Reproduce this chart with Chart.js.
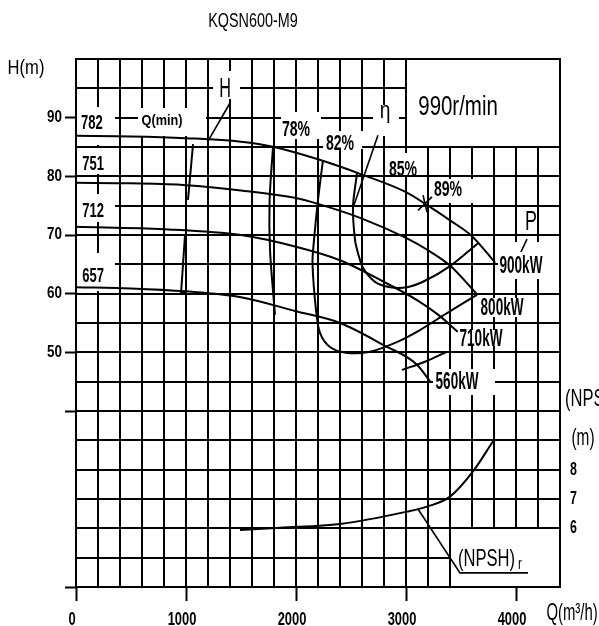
<!DOCTYPE html>
<html><head><meta charset="utf-8">
<script src="https://cdn.jsdelivr.net/npm/chart.js@4.4.1/dist/chart.umd.min.js"></script>
<style>html,body{margin:0;padding:0;background:#fff;}canvas{display:block;}</style>
</head><body>
<canvas id="c" width="599" height="626"></canvas>
<script>
// Narrow "CAD" lettering: a family tag cadkNN tells fillText to squeeze glyphs to NN% width.
const BASE = "'Liberation Sans', Arial, sans-serif";
function fam(k) { return 'cadk' + k + ', ' + BASE; }
const _fill = CanvasRenderingContext2D.prototype.fillText;
CanvasRenderingContext2D.prototype.fillText = function (t, x, y, mw) {
  const m = /cadk(\d+)/.exec(this.font);
  if (!m) return _fill.call(this, t, x, y, mw);
  this.save(); this.translate(x, y); this.scale(+m[1] / 100, 1);
  _fill.call(this, t, 0, 0); this.restore();
};

// ---------- axis ticks ----------
const xTickValues = [0, 1000, 2000, 3000, 4000];
const xTickLabels = ['0', '1000', '2000', '3000', '4000'];
const yTickMarks  = [10, 40, 50, 60, 70, 80, 90];
const yTickValues = [50, 60, 70, 80, 90];
const yTickLabels = ['50', '60', '70', '80', '90'];
const npshTickValues = [6, 7, 8];
const npshTickLabels = ['6', '7', '8'];

// ---------- H-Q curves (Q m3/h, H m) ----------
const q782 = [0, 500, 1000, 1500, 1800, 2200, 2600, 3000, 3200, 3400, 3600, 3810];
const h782 = [86.9, 86.8, 86.5, 85.9, 85.0, 82.9, 80.3, 77.3, 75.0, 72.5, 69.8, 65.3];
const q751 = [0, 500, 1000, 1500, 2000, 2200, 2600, 3000, 3200, 3400, 3650];
const h751 = [78.9, 78.8, 78.5, 77.6, 76.3, 75.3, 72.8, 69.5, 67.4, 64.8, 59.8];
const q712 = [0, 800, 1500, 2000, 2400, 2800, 3100, 3300, 3470];
const h712 = [71.4, 71.0, 70.0, 68.0, 65.7, 62.0, 58.9, 56.3, 53.5];
const q657 = [0, 500, 1000, 1500, 2000, 2400, 2800, 3100, 3220];
const h657 = [61.1, 60.9, 60.4, 59.4, 57.0, 55.0, 51.2, 47.9, 45.0];

// ---------- iso-efficiency lines ----------
const qEff78a = [1791, 1760, 1764, 1809];
const hEff78a = [85.0, 76.0, 67.4, 56.4];
const qEff78b = [2964, 3173, 3373];
const hEff78b = [47.0, 48.4, 50.1];
const qEff82 = [2245, 2200, 2164, 2150, 2182, 2218, 2309, 2464, 2673, 2900, 3127, 3373, 3645];
const hEff82 = [82.7, 76.0, 69.2, 65.2, 57.2, 53.3, 50.9, 49.9, 50.1, 51.6, 53.8, 56.7, 59.8];
const qEff85 = [2555, 2518, 2536, 2564, 2609, 2718, 2855, 3009, 3173, 3400, 3655];
const hEff85 = [80.6, 74.8, 69.2, 66.9, 64.4, 62.0, 61.1, 61.1, 62.2, 64.7, 68.6];

// ---------- minimum flow marks ----------
const qMinA = [1064, 1018];
const hMinA = [85.5, 76.0];
const qMinB = [991, 955, 991];
const hMinB = [70.0, 60.1, 60.1];

// ---------- (NPSH)r curve (Q m3/h, NPSH m) ----------
const qNpsh = [1491, 1855, 2400, 3009, 3191, 3400, 3609, 3791];
const nNpsh = [5.94, 6.02, 6.15, 6.57, 6.74, 7.08, 7.94, 8.97];

// ---------- leader lines (data coords) ----------
const leaders = [
  {q: [1400, 1200], h: [92.5, 86.0]},
  {q: [2745, 2518], h: [87.0, 74.6]},
  {q: [4100, 4045], h: [69.3, 67.1]},
  {q: [3109, 3236], h: [74.2, 76.5]},
  {q: [3155, 3191], h: [76.8, 73.9]},
  {q: [3109, 3491, 4109], h: [23.3, 12.4, 12.4]}
];

// ---------- labels inside plot (data coords) ----------
const notes = [
  {t: '782', q: 145, h: 89.3, s: 21, k: 62},
  {t: '751', q: 155, h: 82.4, s: 21, k: 62},
  {t: '712', q: 155, h: 74.3, s: 21, k: 62},
  {t: '657', q: 155, h: 63.2, s: 21, k: 62},
  {t: 'Q(min)', q: 782, h: 89.6, s: 15, k: 85},
  {t: 'H', q: 1355, h: 95.2, s: 28, k: 58, w: 'normal'},
  {t: '78%', q: 2000, h: 88.2, s: 22, k: 64},
  {t: '82%', q: 2400, h: 85.9, s: 22, k: 64},
  {t: 'η', q: 2809, h: 91.4, s: 24, k: 80, w: 'normal'},
  {t: '85%', q: 2973, h: 81.4, s: 22, k: 64},
  {t: '89%', q: 3382, h: 78.0, s: 22, k: 64},
  {t: '990r/min', q: 3473, h: 92.2, s: 28, k: 73, w: 'normal'},
  {t: 'P', q: 4136, h: 72.6, s: 28, k: 64, w: 'normal'},
  {t: '900kW', q: 4045, h: 64.9, s: 23, k: 59},
  {t: '800kW', q: 3873, h: 57.7, s: 23, k: 59},
  {t: '710kW', q: 3682, h: 52.4, s: 23, k: 59},
  {t: '560kW', q: 3464, h: 45.1, s: 23, k: 59},
  {t: '(NPSH)', sub: 'r', q: 3473, h: 15.03, s: 24, k: 69, align: 'left', w: 'normal'}
];

// ---------- blank areas of the drawing grid (data coords) ----------
const gridGaps = [
  {q: [0, 364], h: [85.2, 92.0]},
  {q: [0, 364], h: [80.2, 85.0]},
  {q: [0, 364], h: [72.0, 77.2]},
  {q: [0, 364], h: [60.3, 67.1]},
  {q: [555, 1191], h: [86.7, 91.8]},
  {q: [1236, 1500], h: [93.0, 98.1]},
  {q: [1855, 2236], h: [86.2, 91.2]},
  {q: [2236, 2609], h: [84.5, 87.9]},
  {q: [2691, 2945], h: [86.7, 92.3]},
  {q: [2820, 3130], h: [80.1, 84.1]},
  {q: [3236, 3709], h: [75.3, 79.8]},
  {q: [3000, 4400], h: [85, 100]},
  {q: [3827, 4400], h: [62.3, 69.0]},
  {q: [3673, 4082], h: [55.9, 59.4]},
  {q: [3491, 3882], h: [50.9, 54.0]},
  {q: [3236, 3818], h: [42.6, 47.3]},
  {q: [3400, 4400], h: [10, 20]}
];
const Q_MIN = 0, Q_MAX = 4400, Q_STEP = 200;
const H_MIN = 10, H_MAX = 100, H_STEP = 5;

function pts(xs, ys) { return xs.map((v, i) => ({x: v, y: ys[i]})); }
function line(xs, ys, extra) {
  return Object.assign({data: pts(xs, ys), showLine: true, pointRadius: 0, pointHoverRadius: 0,
    borderColor: '#000', borderWidth: 2, fill: false, tension: 0}, extra || {});
}
function segs(lo, hi, gaps) {
  gaps.sort((a, b) => a[0] - b[0]);
  const out = []; let s = lo;
  for (const g of gaps) { if (g[0] > s) out.push([s, g[0]]); s = Math.max(s, g[1]); }
  if (s < hi) out.push([s, hi]);
  return out;
}
function put(ctx, t, x, cy, s, k, weight, align) {
  ctx.font = (weight || 'bold') + ' ' + s + 'px ' + fam(k);
  ctx.textAlign = align || 'center';
  ctx.textBaseline = 'alphabetic';
  ctx.fillText(t, x, cy + 0.358 * s);
}

const gridPlugin = {
  id: 'cadGrid',
  beforeDatasetsDraw(chart) {
    const {ctx, scales: {x, y}} = chart;
    ctx.save();
    ctx.strokeStyle = '#000'; ctx.lineWidth = 2; ctx.lineCap = 'square';
    ctx.beginPath();
    for (let q = Q_MIN; q <= Q_MAX; q += Q_STEP) {
      const px = Math.round(x.getPixelForValue(q));
      const gaps = gridGaps.filter(b => b.q[0] < q && q < b.q[1]).map(b => [b.h[0], b.h[1]]);
      for (const [a, b] of segs(H_MIN, H_MAX, gaps)) {
        ctx.moveTo(px, Math.round(y.getPixelForValue(a)));
        ctx.lineTo(px, Math.round(y.getPixelForValue(b)));
      }
    }
    for (let h = H_MIN; h <= H_MAX; h += H_STEP) {
      const py = Math.round(y.getPixelForValue(h));
      const gaps = gridGaps.filter(b => b.h[0] < h && h < b.h[1]).map(b => [b.q[0], b.q[1]]);
      for (const [a, b] of segs(Q_MIN, Q_MAX, gaps)) {
        ctx.moveTo(Math.round(x.getPixelForValue(a)), py);
        ctx.lineTo(Math.round(x.getPixelForValue(b)), py);
      }
    }
    ctx.stroke();
    ctx.restore();
  },
  afterDatasetsDraw(chart) {
    const {ctx, scales: {x, y}} = chart;
    ctx.save();
    ctx.fillStyle = '#000';
    for (const n of notes) {
      const px = x.getPixelForValue(n.q), py = y.getPixelForValue(n.h);
      put(ctx, n.t, px, py, n.s, n.k, n.w, n.align);
      if (n.sub) {
        ctx.font = (n.w || 'bold') + ' ' + n.s + 'px ' + BASE;
        const w = ctx.measureText(n.t).width * n.k / 100;
        put(ctx, n.sub, px + w + 3, py + 5, Math.round(n.s * 0.7), n.k, n.w, 'left');
      }
    }
    ctx.restore();
  },
  afterDraw(chart) {
    const ctx = chart.ctx;
    ctx.save();
    ctx.fillStyle = '#000';
    put(ctx, 'KQSN600-M9', 253, 20, 20, 72, 'normal');
    put(ctx, 'H(m)', 26, 66, 21, 79, 'normal');
    put(ctx, 'Q(m³/h)', 572, 611, 24, 62, 'normal');
    put(ctx, '(NPSH)r', 565, 397, 24, 69, 'normal', 'left');
    put(ctx, '(m)', 583, 436, 24, 64, 'normal');
    ctx.restore();
  }
};

const ds = [
  line(q782, h782, {cubicInterpolationMode: 'monotone'}),
  line(q751, h751, {cubicInterpolationMode: 'monotone'}),
  line(q712, h712, {cubicInterpolationMode: 'monotone'}),
  line(q657, h657, {cubicInterpolationMode: 'monotone'}),
  line(qEff78a, hEff78a, {tension: 0.3}),
  line(qEff78b, hEff78b, {tension: 0.3}),
  line(qEff82, hEff82, {tension: 0.3}),
  line(qEff85, hEff85, {tension: 0.3}),
  line(qMinA, hMinA),
  line(qMinB, hMinB),
  line(qNpsh, nNpsh, {yAxisID: 'y2', cubicInterpolationMode: 'monotone'})
];
for (const l of leaders) ds.push(line(l.q, l.h, {borderWidth: 1.6}));

new Chart(document.getElementById('c'), {
  type: 'scatter',
  data: {datasets: ds},
  plugins: [gridPlugin],
  options: {
    responsive: false, animation: false,
    layout: {padding: {top: 59, left: 0, right: 0, bottom: 0}},
    plugins: {legend: {display: false}, tooltip: {enabled: false}},
    elements: {point: {radius: 0}},
    scales: {
      x: {
        type: 'linear', position: 'bottom', min: Q_MIN, max: Q_MAX,
        afterBuildTicks: s => { s.ticks = xTickValues.map(v => ({value: v})); },
        afterFit: s => { s.height = 39; },
        ticks: {autoSkip: false, maxRotation: 0, minRotation: 0, padding: 7, labelOffset: -4, color: '#000',
          font: {family: fam(68), size: 19, weight: 'bold'},
          callback: v => { const i = xTickValues.indexOf(v); return i >= 0 ? xTickLabels[i] : ''; }},
        grid: {drawOnChartArea: false, drawTicks: true, tickLength: 14, tickWidth: 2, tickColor: '#000'},
        border: {display: false}
      },
      y: {
        type: 'linear', position: 'left', min: H_MIN, max: H_MAX,
        afterBuildTicks: s => { s.ticks = yTickMarks.map(v => ({value: v})); },
        afterFit: s => { s.width = 76; },
        ticks: {autoSkip: false, padding: 3, color: '#000', font: {family: fam(84), size: 16, weight: 'bold'},
          callback: v => { const i = yTickValues.indexOf(v); return i >= 0 ? yTickLabels[i] : ''; }},
        grid: {drawOnChartArea: false, drawTicks: true, tickLength: 11, tickWidth: 2, tickColor: '#000'},
        border: {display: false}
      },
      y2: {
        type: 'linear', position: 'right', min: 2 + H_MIN / 5, max: 2 + H_MAX / 5,
        afterBuildTicks: s => { s.ticks = npshTickValues.map(v => ({value: v})); },
        afterFit: s => { s.width = 39; },
        ticks: {autoSkip: false, padding: 10, color: '#000', font: {family: fam(69), size: 18, weight: 'bold'},
          callback: v => { const i = npshTickValues.indexOf(v); return i >= 0 ? npshTickLabels[i] : ''; }},
        grid: {display: false, drawOnChartArea: false, drawTicks: false},
        border: {display: false}
      }
    }
  }
});
</script>
</body></html>
